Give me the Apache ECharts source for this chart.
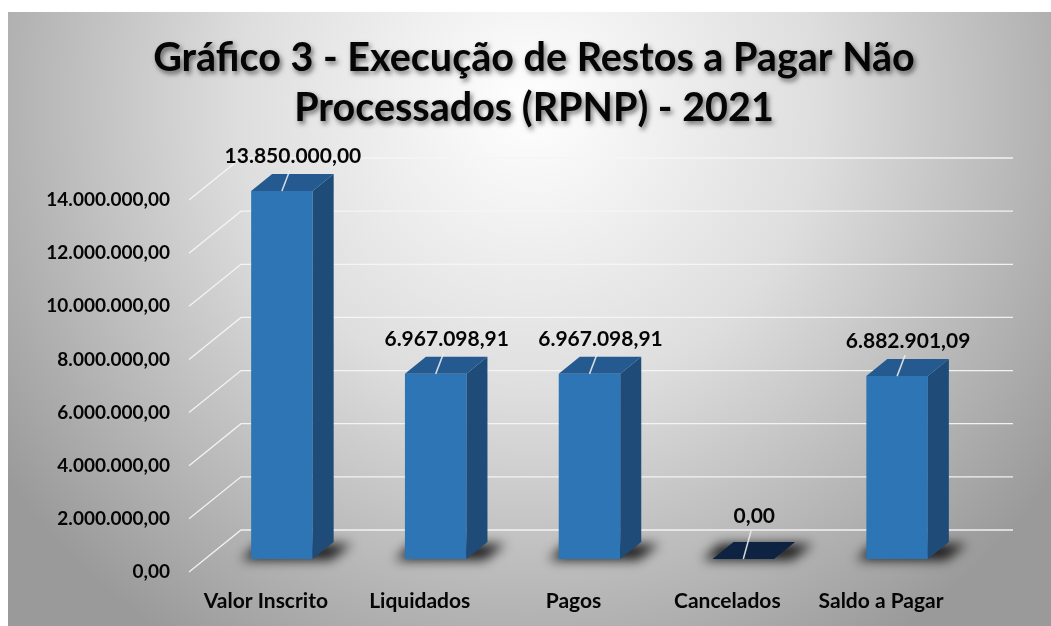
<!DOCTYPE html>
<html><head><meta charset="utf-8">
<script src="https://cdn.jsdelivr.net/npm/echarts@6/dist/echarts.min.js"></script>
<style>html,body{margin:0;padding:0;background:#fff}#c{width:1051px;height:626px}</style>
</head><body><div id="c"></div>
<script>
const categories = ['Valor Inscrito', 'Liquidados', 'Pagos', 'Cancelados', 'Saldo a Pagar'];
const values = [13850000.00, 6967098.91, 6967098.91, 0.00, 6882901.09];
const yTicks = [0, 2000000, 4000000, 6000000, 8000000, 10000000, 12000000, 14000000];
const titleText = 'Gráfico 3 - Execução de Restos a Pagar Não\nProcessados (RPNP) - 2021';

function fmtBR(v) {
  const p = Number(v).toFixed(2).split('.');
  p[0] = p[0].replace(/\B(?=(\d{3})+(?!\d))/g, '.');
  return p.join(',');
}

// 3D geometry (pixels)
const WALL_DX = 52, WALL_DY = -42;   // back wall offset from front plane
const OFF_X = 16, OFF_Y = -13;       // bar front face offset from front plane
const BAR_DX = 21, BAR_DY = -17;     // bar depth
const FONT = 'Lato, "Open Sans", sans-serif';
const FAR = 3000;                    // offset used to draw only the blurred shadow

const chart = echarts.init(document.getElementById('c'));

const option = {
  animation: false,
  graphic: [{
    type: 'rect', z: -10, silent: true,
    shape: { x: 8, y: 12, width: 1043, height: 614 },
    style: {
      fill: new echarts.graphic.RadialGradient(0.5, 0.15, 1.05, [
        { offset: 0, color: '#ffffff' },
        { offset: 0.45, color: '#dedede' },
        { offset: 1, color: '#9a9a9a' }
      ])
    }
  }, {
    type: 'text', z: 10, silent: true,
    style: {
      text: titleText, x: 534, y: 33,
      align: 'center', verticalAlign: 'top',
      font: 'bold 39.5px ' + FONT, lineHeight: 50, fill: '#050505',
      textShadowColor: 'rgba(0,0,0,0.55)', textShadowBlur: 5,
      textShadowOffsetX: 2, textShadowOffsetY: 3
    }
  }],
  grid: { left: 189, right: 93, top: 200, bottom: 54, containLabel: false },
  xAxis: {
    type: 'category', data: categories,
    axisLine: { show: false }, axisTick: { show: false },
    axisLabel: { interval: 0, fontFamily: FONT, fontSize: 21, fontWeight: 'bold', color: '#050505', margin: 19 }
  },
  yAxis: {
    type: 'value', min: 0, max: 14000000, interval: 2000000,
    axisLine: { show: false }, axisTick: { show: false }, splitLine: { show: false },
    axisLabel: { fontFamily: FONT, fontSize: 19, fontWeight: 'bold', color: '#050505', margin: 19,
      formatter: v => fmtBR(v) }
  },
  series: [
    {
      type: 'custom', name: 'walls', z: 1, silent: true, clip: false,
      data: yTicks.map(t => [0, t]),
      encode: { x: 0, y: 1 },
      renderItem: function (params, api) {
        const cs = params.coordSys;
        const y = api.coord([0, api.value(1)])[1];
        const x0 = cs.x;
        return {
          type: 'polyline',
          shape: { points: [[x0, y], [x0 + WALL_DX, y + WALL_DY], [x0 + cs.width + WALL_DX + 3, y + WALL_DY]] },
          style: { stroke: 'rgba(245,245,245,0.95)', lineWidth: 1.3, fill: null }
        };
      }
    },
    {
      type: 'custom', name: 'RPNP', z: 2, clip: false,
      data: values.map((v, i) => [i, v]),
      encode: { x: 0, y: 1 },
      renderItem: function (params, api) {
        const i = api.value(0), v = api.value(1);
        const base = api.coord([i, 0]);
        const top = api.coord([i, v]);
        const bw = api.size([1, 0])[0] * 0.4;
        const cx = base[0] + OFF_X;
        const yb = base[1] + OFF_Y, yt = top[1] + OFF_Y;
        const xl = cx - bw / 2, xr = cx + bw / 2;
        const flat = Math.abs(yb - yt) < 0.5;
        const children = [];
        // soft floor shadow: shape drawn off-screen, only its blurred shadow lands here
        children.push({
          type: 'polygon',
          shape: { points: [[xl - 10 - FAR, yb + 1], [xr + 18 - FAR, yb + 1], [xr + BAR_DX + 18 - FAR, yb + BAR_DY + 2], [xl + BAR_DX - 14 - FAR, yb + BAR_DY + 2]] },
          style: { fill: '#000', shadowBlur: 12, shadowColor: 'rgba(0,0,0,0.85)', shadowOffsetX: FAR, shadowOffsetY: 0 }
        });
        if (!flat) {
          children.push({
            type: 'rect', shape: { x: xl, y: yt, width: bw, height: yb - yt },
            style: { fill: '#2e75b6' }
          });
          children.push({
            type: 'polygon',
            shape: { points: [[xr, yb], [xr + BAR_DX, yb + BAR_DY], [xr + BAR_DX, yt + BAR_DY], [xr, yt]] },
            style: { fill: '#1f4b78' }
          });
        }
        children.push({
          type: 'polygon',
          shape: { points: [[xl, yt], [xr, yt], [xr + BAR_DX, yt + BAR_DY], [xl + BAR_DX, yt + BAR_DY]] },
          style: { fill: flat ? '#0d2341' : '#245a8f' }
        });
        // leader line
        const lx = cx + 8, ly = yt + BAR_DY - (flat ? 12 : 4);
        children.push({
          type: 'line', shape: { x1: cx, y1: yt, x2: lx, y2: ly },
          style: { stroke: 'rgba(235,235,235,0.9)', lineWidth: 1.5 }
        });
        children.push({
          type: 'text',
          style: {
            text: fmtBR(v), x: cx + 11, y: ly - 3,
            align: 'center', verticalAlign: 'bottom',
            font: 'bold 21px ' + FONT, fill: '#050505'
          }
        });
        return { type: 'group', children: children };
      }
    }
  ]
};
chart.setOption(option);
</script>
</body></html>
